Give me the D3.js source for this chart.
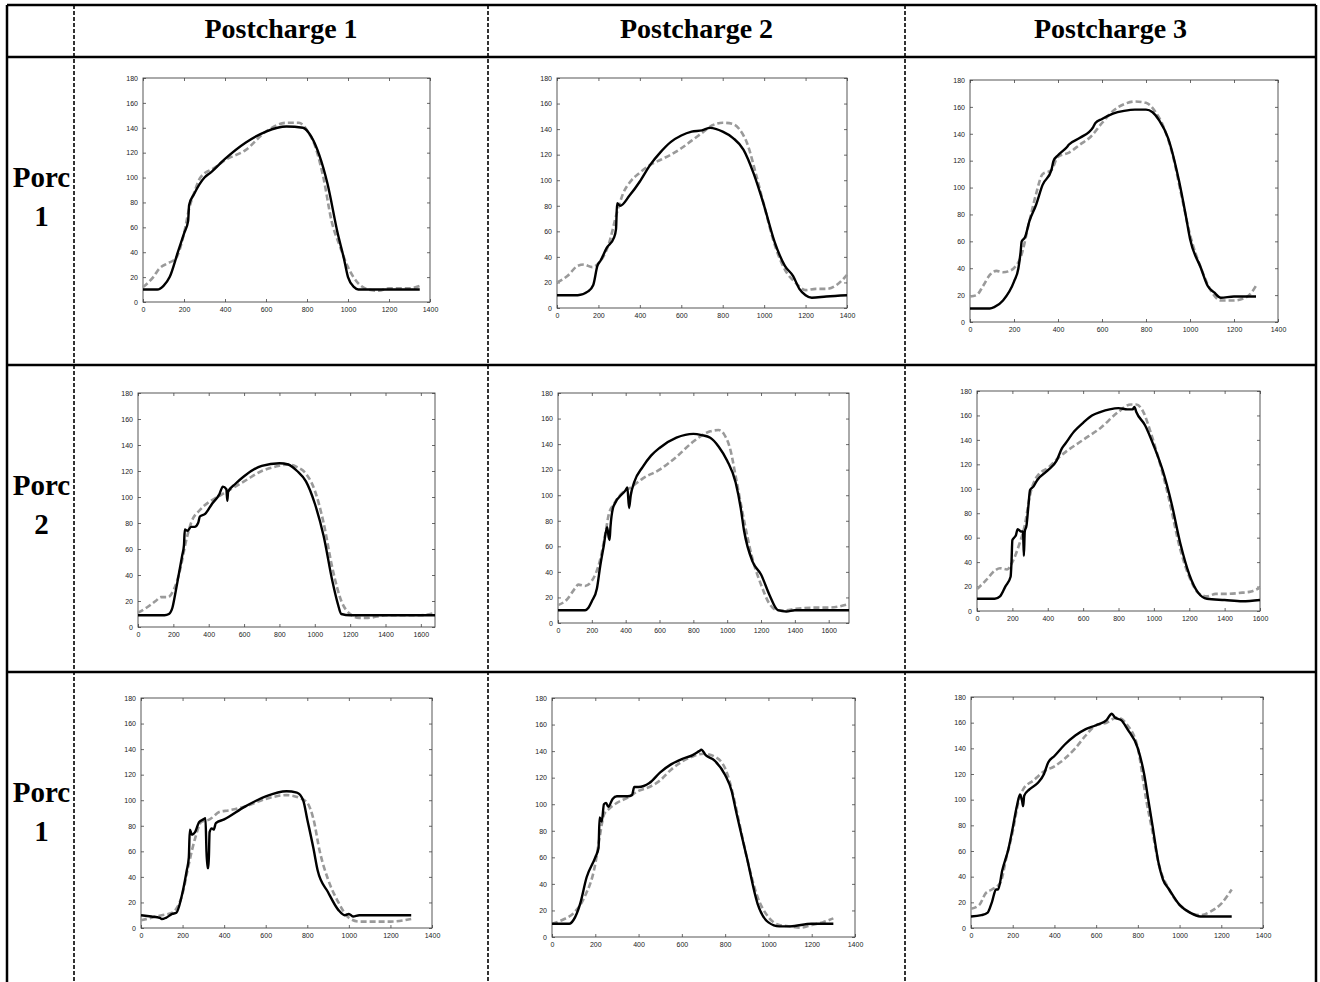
<!DOCTYPE html>
<html><head><meta charset="utf-8">
<script src="https://cdn.jsdelivr.net/npm/d3@7"></script>
<style>html,body{margin:0;padding:0;background:#fff;}svg{display:block;}</style>
</head><body>
<svg id="c" width="1320" height="982"></svg>
<script>
const columnHeaders = ["Postcharge 1", "Postcharge 2", "Postcharge 3"];
const rowLabels = [["Porc", "1"], ["Porc", "2"], ["Porc", "1"]];
const yTicks = [0, 20, 40, 60, 80, 100, 120, 140, 160, 180];
const xMaxes = [1400, 1400, 1400, 1680, 1720, 1600, 1400, 1400, 1400];

const p1Black = [[0,10],[70,10],[100,13],[130,20],[170,40],[200,55],[220,65],[225,78],[250,87],[300,100],[330,104],[400,115],[500,128],[600,137],[700,141],[780,140],[820,133],[860,118],[900,95],[950,55],[980,35],[1000,20],[1030,12],[1050,10],[1350,10]];
const p1Gray = [[0,12],[50,20],[80,27],[120,31],[160,35],[200,55],[225,75],[250,88],[280,100],[350,108],[400,114],[500,122],[600,137],[700,144],[760,144],[800,138],[840,125],[880,100],[920,65],[960,45],[1000,28],[1050,15],[1100,10],[1150,9],[1200,11],[1300,11],[1350,13]];
const p2Black = [[0,10],[100,10],[150,13],[175,18],[195,33],[210,37],[240,47],[275,55],[285,62],[290,82],[305,80],[350,88],[400,99],[450,112],[500,122],[550,130],[600,135],[650,138],[700,139],[740,141],[800,138],[850,133],[900,124],[950,105],[1000,80],[1050,52],[1100,33],[1140,25],[1170,15],[1200,10],[1230,8],[1300,9],[1400,10]];
const p2Gray = [[0,20],[50,25],[100,33],[130,34],[170,32],[200,35],[250,50],[290,75],[320,90],[350,98],[400,106],[450,112],[500,116],[550,120],[600,125],[650,131],[700,137],[750,143],[800,145],[850,144],[880,140],[920,128],[960,105],[1000,80],[1050,50],[1100,30],[1150,20],[1200,14],[1250,15],[1300,15],[1350,18],[1400,26]];
const p3Black = [[0,10],[90,10],[110,11],[150,16],[200,30],[220,40],[230,52],[235,60],[250,63],[270,75],[300,87],[330,102],[370,113],[380,120],[400,124],[440,130],[450,132],[500,137],[560,145],[570,148],[600,151],[650,155],[700,157],[750,158],[800,158],[830,156],[860,150],[900,137],[950,105],[980,80],[1000,62],[1050,40],[1080,27],[1110,22],[1140,18],[1200,19],[1300,19]];
const p3Gray = [[0,19],[30,20],[60,27],[90,35],[120,38],[150,37],[180,38],[210,42],[230,48],[270,75],[300,95],[330,110],[370,113],[400,123],[450,126],[500,132],[550,138],[600,148],[650,157],[700,162],[750,164],[800,163],[840,157],[880,145],[920,125],[960,95],[1000,65],[1050,40],[1100,22],[1140,16],[1200,16],[1250,18],[1280,22],[1300,27]];
const p4Black = [[0,9],[150,9],[175,10],[195,15],[210,25],[230,40],[250,55],[260,63],[265,75],[280,74],[300,77],[320,77],[340,80],[350,85],[380,87],[420,95],[460,102],[480,108],[500,106],[505,97],[510,104],[550,110],[600,116],[700,124],[800,126],[850,125],[900,120],[950,112],[1000,95],[1050,70],[1100,35],[1130,18],[1150,10],[1200,9],[1680,9]];
const p4Gray = [[0,11],[50,15],[100,20],[130,23],[170,23],[200,28],[240,45],[270,65],[300,80],[350,90],[400,96],[450,100],[500,104],[600,112],[700,120],[800,124],[850,125],[900,123],[950,118],[1000,105],[1050,80],[1100,45],[1150,20],[1200,10],[1250,7],[1300,7],[1400,9],[1500,9],[1600,9],[1680,11]];
const p5Black = [[0,10],[160,10],[180,12],[200,17],[230,27],[250,45],[270,60],[290,75],[300,67],[305,65],[310,75],[325,90],[330,92],[400,104],[410,106],[420,90],[430,100],[450,110],[500,122],[550,131],[600,137],[700,145],[800,148],[850,147],[900,145],[950,138],[1000,127],[1050,110],[1080,90],[1100,72],[1150,48],[1200,38],[1250,22],[1300,10],[1350,9],[1400,10],[1720,10]];
const p5Gray = [[0,14],[50,18],[100,27],[120,30],[160,29],[200,33],[250,50],[280,70],[300,85],[330,93],[400,104],[430,106],[450,108],[500,113],[600,120],[700,130],[800,142],[900,150],[950,151],[980,148],[1020,135],[1050,115],[1100,80],[1150,50],[1200,30],[1250,15],[1300,10],[1350,10],[1400,11],[1500,12],[1600,12],[1720,15]];
const p6Black = [[0,10],[100,10],[130,12],[160,20],[190,28],[195,40],[200,58],[210,60],[220,62],[230,67],[250,65],[260,65],[265,45],[270,65],[280,70],[290,85],[300,99],[320,102],[340,107],[400,115],[450,123],[480,133],[500,137],[550,147],[600,154],[650,160],[700,163],[750,165],[800,166],[850,165],[880,165],[890,167],[900,163],[950,152],[1000,135],[1050,115],[1100,88],[1150,55],[1200,30],[1250,15],[1300,10],[1400,9],[1500,8],[1600,9]];
const p6Gray = [[0,18],[50,25],[100,33],[130,35],[170,34],[200,40],[240,55],[270,70],[300,95],[330,108],[350,112],[400,117],[450,124],[500,130],[600,140],[700,150],[800,163],[870,169],[900,169],[940,163],[980,147],[1020,128],[1080,95],[1150,50],[1200,28],[1250,15],[1300,12],[1350,14],[1400,14],[1500,15],[1550,16],[1600,19]];
const p7Black = [[0,10],[50,9],[90,8],[100,7],[120,8],[150,11],[170,12],[200,28],[220,45],[230,55],[235,77],[245,73],[260,75],[280,83],[300,85],[310,86],[315,60],[320,47],[325,47],[330,75],[340,78],[350,77],[360,82],[400,85],[500,95],[600,103],[700,107],[750,106],[780,100],[800,85],[830,62],[850,45],[900,28],[950,14],[980,10],[1000,11],[1020,9],[1050,10],[1100,10],[1300,10]];
const p7Gray = [[0,6],[50,8],[100,10],[150,12],[200,27],[230,50],[260,70],[290,83],[330,85],[380,91],[420,92],[500,95],[600,101],[700,104],[760,102],[800,98],[830,85],[860,60],[900,38],[950,20],[1000,8],[1050,5],[1100,5],[1200,5],[1300,7]];
const p8Black = [[0,10],[80,10],[100,13],[130,25],[160,45],[200,60],[215,67],[220,90],[230,87],[240,100],[250,101],[260,98],[280,104],[300,106],[350,106],[370,107],[380,113],[400,113],[450,116],[500,124],[550,130],[600,134],[650,137],[680,140],[690,141],[710,137],[750,133],[800,122],[830,110],[850,95],[900,60],[950,25],[1000,11],[1050,8],[1100,8],[1200,10],[1300,10]];
const p8Gray = [[0,10],[50,13],[100,18],[150,30],[200,55],[220,75],[240,92],[260,96],[300,101],[350,105],[400,110],[450,113],[500,118],[550,126],[600,132],[650,136],[700,138],[750,136],[800,127],[840,105],[860,90],[900,60],[950,30],[1000,15],[1050,9],[1100,8],[1150,7],[1200,9],[1250,11],[1300,14]];
const p9Black = [[0,9],[50,10],[80,12],[100,20],[120,30],[130,30],[150,45],[180,62],[200,78],[220,95],[235,104],[245,99],[250,95],[255,103],[280,108],[320,113],[350,120],[370,129],[400,134],[450,143],[500,150],[550,155],[600,158],[650,162],[675,167],[690,164],[720,162],[750,155],[800,140],[830,120],[850,100],[870,80],[900,50],[920,38],[950,30],[1000,18],[1050,12],[1100,9],[1200,9],[1250,9]];
const p9Gray = [[0,15],[40,18],[70,27],[100,30],[140,35],[170,55],[200,75],[230,100],[250,108],[300,115],[350,122],[400,126],[450,132],[500,140],[550,150],[600,158],[650,160],[700,164],[750,158],[800,140],[840,100],[870,75],[900,50],[950,30],[1000,18],[1050,12],[1100,10],[1150,13],[1200,19],[1250,30]];

const blackSeries = [p1Black, p2Black, p3Black, p4Black, p5Black, p6Black, p7Black, p8Black, p9Black];
const graySeries = [p1Gray, p2Gray, p3Gray, p4Gray, p5Gray, p6Gray, p7Gray, p8Gray, p9Gray];

// ---- layout ----
const svg = d3.select("#c");
const L = 7, R = 1316, T = 5;
const colX = [L, 74, 488, 905, R];
const rowY = [T, 57, 365, 672, 982];
const panelBoxes = [
  [143, 78, 430, 302], [557, 78, 847, 308], [970, 80, 1278, 322],
  [138, 393, 435, 627], [558, 393, 849, 623], [977, 391, 1260, 611],
  [141, 698, 432, 928], [552, 698, 855, 937], [971, 697, 1263, 928]
];
const serif = "'Liberation Serif','Times New Roman',serif";

// table lines
const grid = svg.append("g");
grid.append("line").attr("x1", L).attr("x2", R).attr("y1", T).attr("y2", T).attr("stroke", "#000").attr("stroke-width", 2.5);
[1, 2, 3].forEach(i => grid.append("line").attr("x1", L).attr("x2", R).attr("y1", rowY[i]).attr("y2", rowY[i]).attr("stroke", "#000").attr("stroke-width", 2.5));
grid.append("line").attr("x1", L).attr("x2", L).attr("y1", T).attr("y2", 982).attr("stroke", "#000").attr("stroke-width", 2.5);
grid.append("line").attr("x1", R).attr("x2", R).attr("y1", T).attr("y2", 982).attr("stroke", "#000").attr("stroke-width", 2.5);
[1, 2, 3].forEach(i => grid.append("line").attr("x1", colX[i]).attr("x2", colX[i]).attr("y1", T).attr("y2", 982)
  .attr("stroke", "#000").attr("stroke-width", 1.6).attr("stroke-dasharray", "4,2"));

// headers
columnHeaders.forEach((h, i) => {
  svg.append("text").attr("x", (colX[i + 1] + colX[i + 2]) / 2).attr("y", 38)
    .attr("text-anchor", "middle").attr("font-family", serif)
    .attr("font-weight", "bold").attr("font-size", 28).text(h);
});
rowLabels.forEach((lab, i) => {
  const top = rowY[i + 1];
  const cx = (colX[0] + colX[1]) / 2 + 1;
  svg.append("text").attr("x", cx).attr("y", top + 130)
    .attr("text-anchor", "middle").attr("font-family", serif)
    .attr("font-weight", "bold").attr("font-size", 29).text(lab[0]);
  svg.append("text").attr("x", cx).attr("y", top + 169)
    .attr("text-anchor", "middle").attr("font-family", serif)
    .attr("font-weight", "bold").attr("font-size", 29).text(lab[1]);
});

// panels
panelBoxes.forEach((b, k) => {
  const [x0, y0, x1, y1] = b;
  const x = d3.scaleLinear().domain([0, xMaxes[k]]).range([x0, x1]);
  const y = d3.scaleLinear().domain([0, 180]).range([y1, y0]);
  const g = svg.append("g");
  const xt = d3.range(0, xMaxes[k] + 1, 200);
  const fontStyle = s => s.selectAll("text").attr("font-family", "'Liberation Sans',Arial,sans-serif").attr("font-size", 7).attr("fill", "#222");
  const tickStyle = s => s.selectAll("line").attr("stroke", "#444").attr("stroke-width", 0.8);
  g.append("g").attr("transform", `translate(0,${y1})`)
    .call(d3.axisBottom(x).tickValues(xt).tickSize(-3).tickPadding(5).tickFormat(d3.format("d")))
    .call(s => s.select(".domain").remove()).call(tickStyle).call(fontStyle);
  g.append("g").attr("transform", `translate(0,${y0})`)
    .call(d3.axisTop(x).tickValues(xt).tickSize(-3).tickFormat(""))
    .call(s => s.select(".domain").remove()).call(tickStyle);
  g.append("g").attr("transform", `translate(${x0},0)`)
    .call(d3.axisLeft(y).tickValues(yTicks).tickSize(-3).tickPadding(5).tickFormat(d3.format("d")))
    .call(s => s.select(".domain").remove()).call(tickStyle).call(fontStyle);
  g.append("g").attr("transform", `translate(${x1},0)`)
    .call(d3.axisRight(y).tickValues(yTicks).tickSize(-3).tickFormat(""))
    .call(s => s.select(".domain").remove()).call(tickStyle);
  g.append("rect").attr("x", x0).attr("y", y0).attr("width", x1 - x0).attr("height", y1 - y0)
    .attr("fill", "none").attr("stroke", "#444").attr("stroke-width", 0.9);
  const line = d3.line().x(d => x(d[0])).y(d => y(d[1])).curve(d3.curveMonotoneX);
  g.append("path").datum(graySeries[k]).attr("d", line).attr("fill", "none")
    .attr("stroke", "#9a9a9a").attr("stroke-width", 2.6).attr("stroke-dasharray", "6,3");
  g.append("path").datum(blackSeries[k]).attr("d", line).attr("fill", "none")
    .attr("stroke", "#000").attr("stroke-width", 2.4).attr("stroke-linejoin", "round");
});
</script>
</body></html>
